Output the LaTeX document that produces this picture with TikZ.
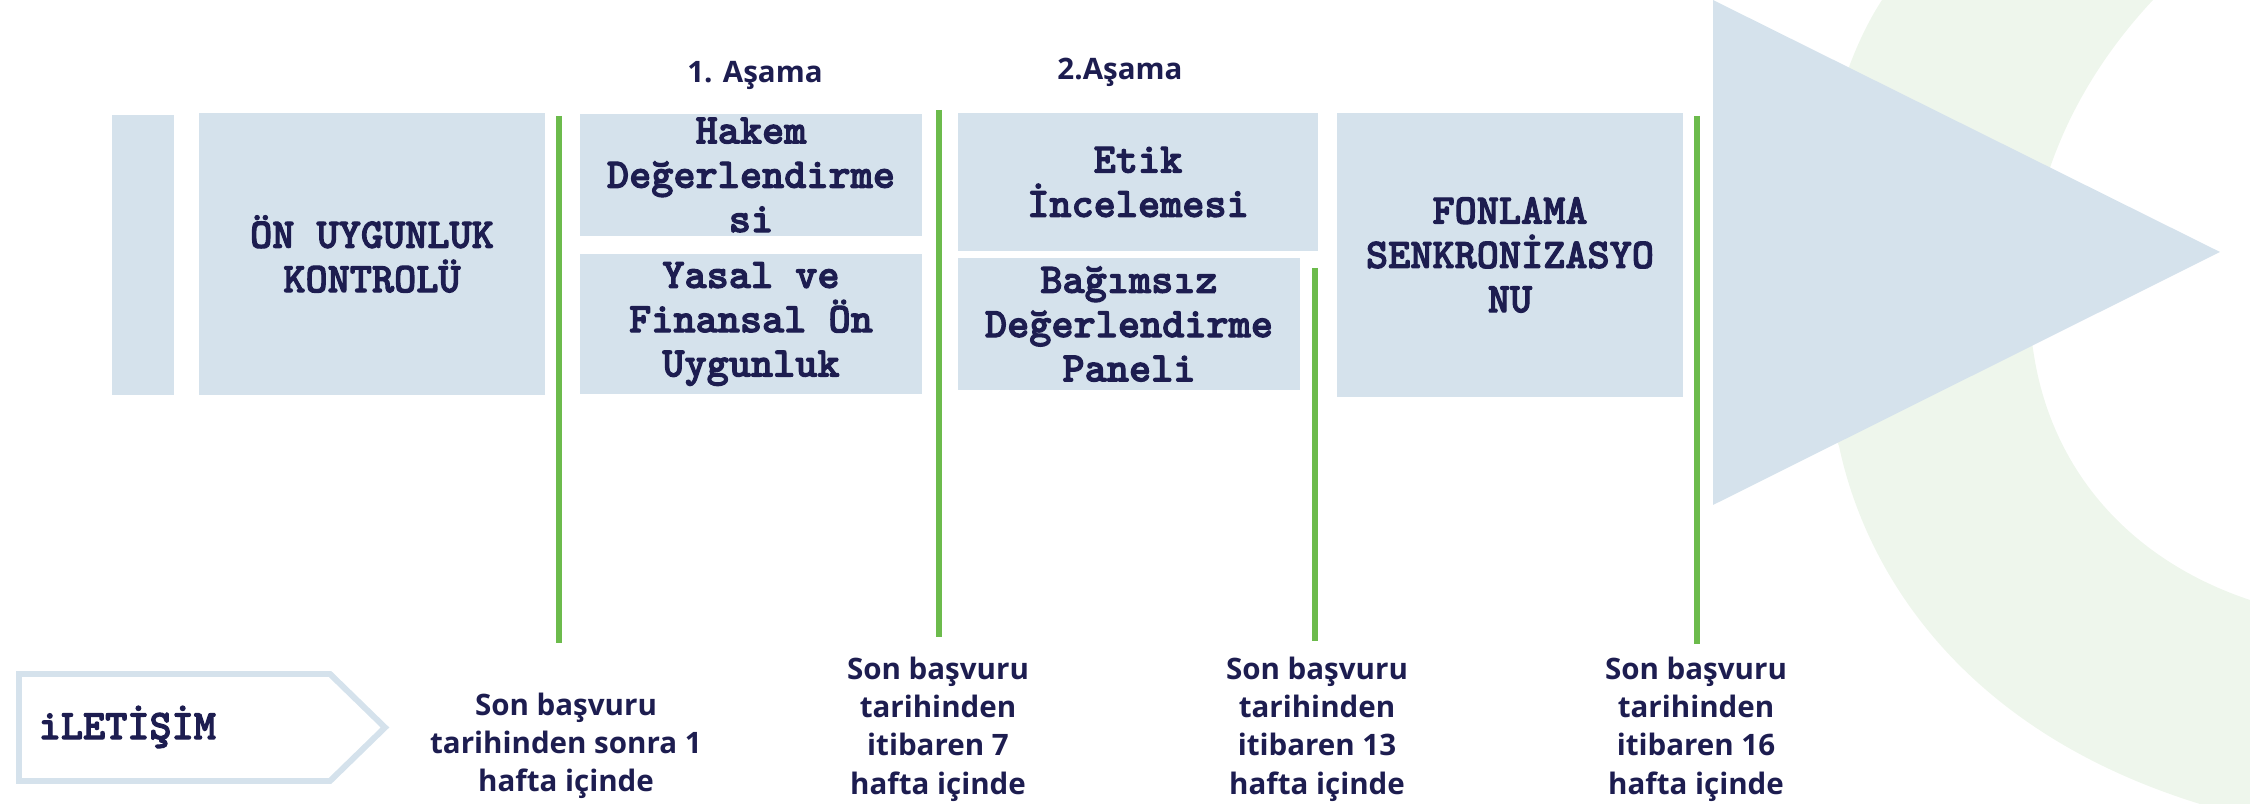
\documentclass[tikz,border=0pt]{standalone}
\usepackage{fontspec}
\setmainfont{Open Sans}
\newfontfamily\kutuyazi{lmmonolt10-bold.otf}[FakeBold=2.5]
\usepackage{xcolor}
\usepackage{tikz}
\usetikzlibrary{positioning}

\definecolor{kutumavi}{HTML}{D5E2EC}
\definecolor{lacivert}{HTML}{1D1D50}
\definecolor{yesil}{HTML}{6CBB4C}
\definecolor{acikyesil}{HTML}{EEF6EC}

\begin{document}
\begin{tikzpicture}[x=0.01cm, y=-0.01cm,
    daktilo/.style={text=lacivert, font=\kutuyazi\fontsize{12}{12.6}\selectfont},
    kutu/.style={daktilo, fill=kutumavi, inner sep=0pt, align=center},
    etiket/.style={align=center, text=lacivert, inner sep=0pt,
        font=\bfseries\fontsize{8.4}{10.9}\selectfont},
    yesilcizgi/.style={draw=yesil, line width=1.5pt}]

    \useasboundingbox (0,0) rectangle (2250,804);

    % Arka plandaki açık yeşil yay
    \fill[acikyesil] (1882,0) .. controls (1810,110) and (1790,330) .. (1839,446)
        .. controls (1865,570) and (1960,730) .. (2200,804) -- (2250,804) -- (2250,600)
        .. controls (2130,560) and (2050,470) .. (2033,349)
        .. controls (2015,240) and (2050,110) .. (2153,0) -- cycle;

    % Büyük ok ucu
    \fill[kutumavi] (1713,0) -- (2220,252) -- (1713,505) -- cycle;

    % Kutular
    \node[kutu, minimum width=0.62cm, minimum height=2.80cm] (serit) at (143,255) {};
    \node[kutu, minimum width=3.46cm, minimum height=2.81cm] (onkontrol) at (372,254)
        {ÖN UYGUNLUK\\KONTROLÜ};
    \node[kutu, minimum width=3.42cm, minimum height=1.21cm] (hakem) at (751,175)
        {Hakem\\Değerlendirme\\si};
    \node[kutu, minimum width=3.42cm, minimum height=1.40cm] (yasal) at (751,324)
        {Yasal ve\\Finansal Ön\\Uygunluk};
    \node[kutu, minimum width=3.59cm, minimum height=1.38cm] (etik) at (1138,182)
        {Etik\\İncelemesi};
    \node[kutu, minimum width=3.41cm, minimum height=1.31cm] (panel) at (1129,324)
        {Bağımsız\\Değerlendirme\\Paneli};
    \node[kutu, minimum width=3.46cm, minimum height=2.84cm] (fonlama) at (1510,255)
        {FONLAMA\\SENKRONİZASYO\\NU};

    % Aşama başlıkları
    \node[etiket] (asama1) at (755,75) {1. Aşama};
    \node[etiket] (asama2) at (1120,72) {2.Aşama};

    % Yeşil ayraçlar
    \foreach \i/\x/\u/\a in {1/559/116/643, 2/939/110/637, 3/1315/268/641, 4/1697/116/644} {
        \coordinate (g\i u) at (\x,\u);
        \coordinate (g\i a) at (\x,\a);
        \draw[yesilcizgi] (g\i u) -- (g\i a);
    }

    % Süre etiketleri
    \node[etiket] (sure1) at (566,746) {Son başvuru\\tarihinden sonra 1\\hafta içinde};
    \node[etiket] (sure2) at (938,729) {Son başvuru\\tarihinden\\itibaren 7\\hafta içinde};
    \node[etiket] (sure3) at (1317,729) {Son başvuru\\tarihinden\\itibaren 13\\hafta içinde};
    \node[etiket] (sure4) at (1696,729) {Son başvuru\\tarihinden\\itibaren 16\\hafta içinde};

    % İletişim oku
    \draw[kutumavi, line width=1.7pt] (19,674) -- (330,674) -- (385,727.5)
        -- (330,781) -- (19,781) -- cycle;
    \node[daktilo, anchor=west, inner sep=0pt] (iletisim) at (38,727) {iLETİŞİM};

\end{tikzpicture}
\end{document}
